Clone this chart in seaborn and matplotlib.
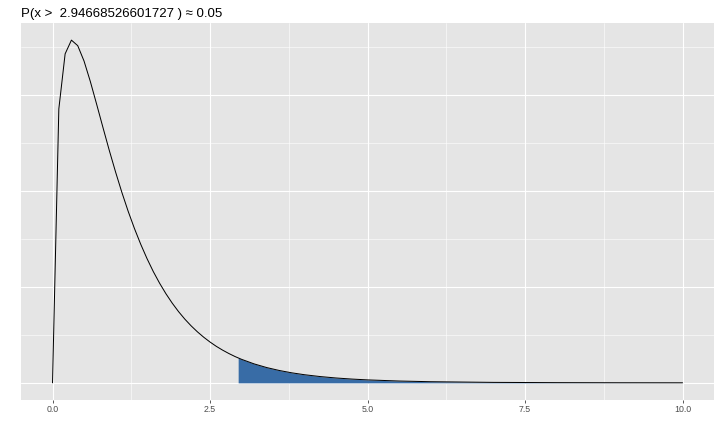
import numpy as np
import pandas as pd
import matplotlib
matplotlib.use("Agg")
import matplotlib.pyplot as plt
import seaborn as sns
from matplotlib.ticker import MultipleLocator

# density values (F distribution, 3 and 28 df)
x_vals = [0.0, 0.1, 0.2, 0.3, 0.4, 0.5, 0.6, 0.7, 0.8, 0.9, 1.0,
          1.1, 1.2, 1.3, 1.4, 1.5, 1.6, 1.7, 1.8, 1.9, 2.0,
          2.1, 2.2, 2.3, 2.4, 2.5, 2.6, 2.7, 2.8, 2.9, 3.0,
          3.2, 3.4, 3.6, 3.8, 4.0, 4.25, 4.5, 4.75, 5.0,
          5.5, 6.0, 7.0, 8.0, 9.0, 10.0]
dens = [0.0, 0.5704, 0.6851, 0.7137, 0.7022, 0.6702, 0.6276, 0.5803, 0.5320, 0.4845, 0.4394,
        0.3969, 0.3575, 0.3215, 0.2886, 0.2587, 0.2316, 0.2074, 0.1856, 0.1660, 0.1484,
        0.1327, 0.1187, 0.1062, 0.0950, 0.0850, 0.0760, 0.0681, 0.0610, 0.0546, 0.0490,
        0.03947, 0.03181, 0.02572, 0.02082, 0.01690, 0.01307, 0.01013, 0.00788, 0.00616,
        0.0038, 0.00237, 0.00096, 0.00041, 0.00018, 0.00009]

crit = 2.94668526601727
crit_dens = 0.05197
alpha = 0.05

df = pd.DataFrame({"x": x_vals, "y": dens})
tail = df[df["x"] > crit]
tail_x = [crit] + tail["x"].tolist()
tail_y = [crit_dens] + tail["y"].tolist()

sns.set_theme(style="darkgrid")
plt.rcParams["font.family"] = ["Liberation Sans", "DejaVu Sans"]
plt.rcParams["axes.facecolor"] = "#E5E5E5"

fig = plt.figure(figsize=(10, 6), dpi=72)
ax = fig.add_axes([0.0292, 0.0741, 0.9625, 0.8727])

ax.fill_between(tail_x, 0, tail_y, color="#386CA6", linewidth=0, zorder=2)
sns.lineplot(data=df, x="x", y="y", ax=ax, color="black", linewidth=1.0, zorder=3)

ax.set_xlim(-0.5, 10.5)
ax.set_ylim(-0.0357, 0.7494)
ax.xaxis.set_major_locator(MultipleLocator(2.5))
ax.xaxis.set_minor_locator(MultipleLocator(1.25))
ax.yaxis.set_major_locator(MultipleLocator(0.2))
ax.yaxis.set_minor_locator(MultipleLocator(0.1))
ax.grid(which="major", color="white", linewidth=1.1)
ax.grid(which="minor", color="white", linewidth=0.55)
ax.set_axisbelow(True)
for s in ax.spines.values():
    s.set_visible(False)

ax.set_xticks([0, 2.5, 5, 7.5, 10])
ax.set_xticklabels(["0.0", "2.5", "5.0", "7.5", "10.0"])
ax.tick_params(axis="x", which="major", bottom=True, length=2.75, width=0.8,
               color="#333333", labelsize=8.8, labelcolor="#4D4D4D", pad=2.2)
ax.tick_params(axis="x", which="minor", bottom=False)
ax.tick_params(axis="y", which="both", left=False, labelleft=False)
ax.set_xlabel("")
ax.set_ylabel("")

ax.set_title(f"P(x >  {crit} ) \u2248 {alpha}", loc="left", fontsize=13.2,
             color="black", pad=5.5)

fig.savefig("out.png", dpi=72)
